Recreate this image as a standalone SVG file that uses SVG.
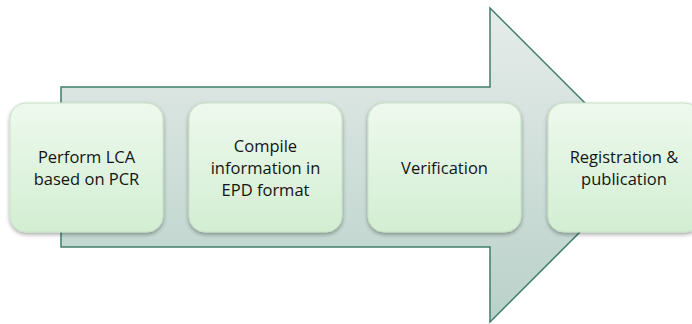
<svg xmlns="http://www.w3.org/2000/svg" width="692" height="324" viewBox="0 0 692 324">
<defs>
<linearGradient id="ag" x1="0" y1="0" x2="0" y2="1">
<stop offset="0" stop-color="#e6ecea"/>
<stop offset="1" stop-color="#b9d1c9"/>
</linearGradient>
<linearGradient id="bg" x1="0" y1="0" x2="0" y2="1">
<stop offset="0" stop-color="#eef9ee"/>
<stop offset="1" stop-color="#d2eed2"/>
</linearGradient>
<filter id="sh" x="-10%" y="-10%" width="120%" height="130%">
<feGaussianBlur in="SourceAlpha" stdDeviation="2"/>
<feOffset dx="0" dy="2" result="b"/>
<feComponentTransfer><feFuncA type="linear" slope="0.35"/></feComponentTransfer>
<feMerge><feMergeNode/><feMergeNode in="SourceGraphic"/></feMerge>
</filter>
</defs>
<style>
.box{fill:url(#bg);stroke:#c6e2c6;stroke-width:1;filter:url(#sh)}
.t{font-family:"Open Sans","Liberation Sans",sans-serif;font-size:16.5px;fill:#141414;text-anchor:middle}
</style>
<g id="arrow">
<path d="M61,87 H490 V8 L647,165 L490,322 V247 H61 Z" fill="url(#ag)" stroke="#3f7d6c" stroke-width="1.5" stroke-linejoin="miter"/>
</g>
<g id="n1">
<rect class="box" x="10" y="103" width="153" height="129" rx="16"/>
<text class="t" x="86.5" y="163">Perform LCA</text>
<text class="t" x="86.5" y="185">based on PCR</text>
</g>
<g id="n2">
<rect class="box" x="189" y="103" width="153" height="129" rx="16"/>
<text class="t" x="265.5" y="152">Compile</text>
<text class="t" x="265.5" y="174">information in</text>
<text class="t" x="265.5" y="196">EPD format</text>
</g>
<g id="n3">
<rect class="box" x="368" y="103" width="153" height="129" rx="16"/>
<text class="t" x="444.5" y="174">Verification</text>
</g>
<g id="n4">
<rect class="box" x="548" y="103" width="153" height="129" rx="16"/>
<text class="t" x="624" y="163">Registration &amp;</text>
<text class="t" x="624" y="185">publication</text>
</g>
</svg>
